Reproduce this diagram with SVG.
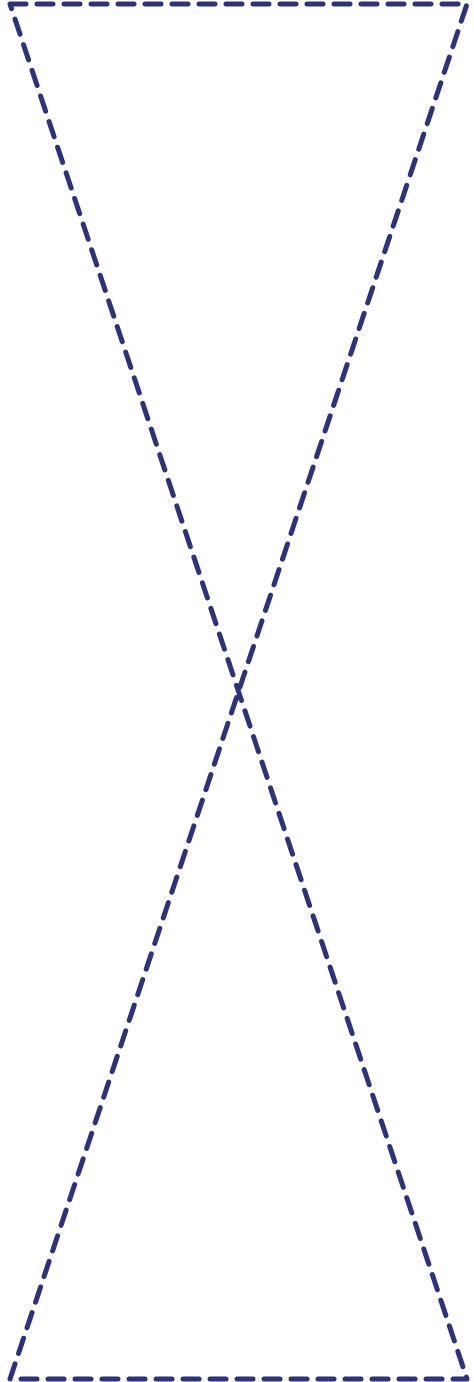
<svg xmlns="http://www.w3.org/2000/svg" width="474" height="1382" viewBox="0 0 474 1382">
<style>
.outline{fill:none;stroke:#2d327a;stroke-width:5;stroke-dasharray:16 11;stroke-linecap:round;stroke-linejoin:round}
</style>
<rect width="474" height="1382" fill="#ffffff"/>
<g id="hourglass">
<path class="outline" d="M10,4 L467,4 L10,1379 L467,1379 Z"/>
</g>
</svg>
